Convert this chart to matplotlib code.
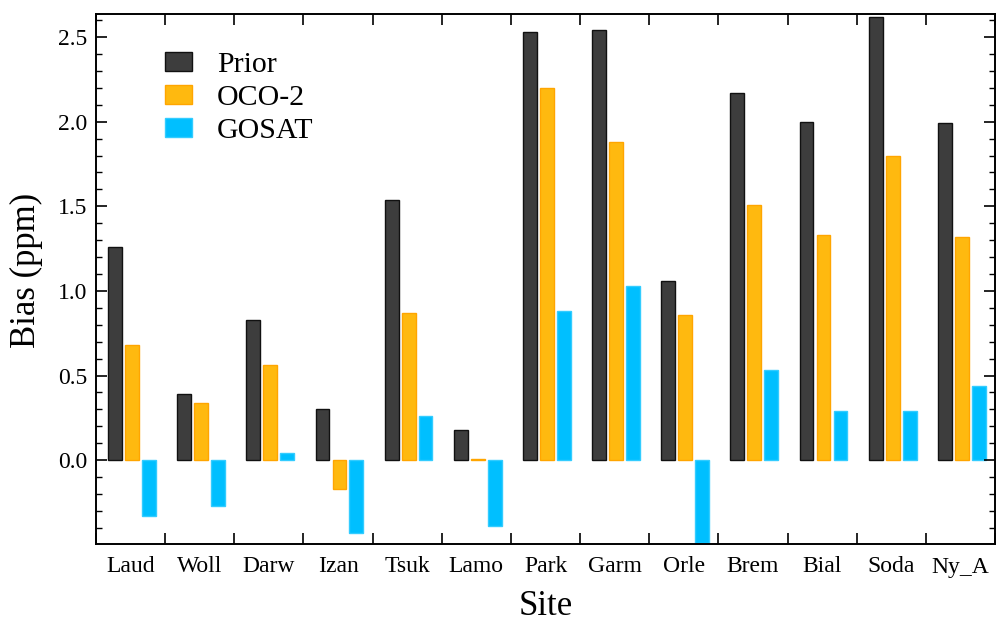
import numpy as np
import matplotlib
matplotlib.use("Agg")
import matplotlib.pyplot as plt
from matplotlib.ticker import MultipleLocator

sites = ["Laud", "Woll", "Darw", "Izan", "Tsuk", "Lamo", "Park", "Garm", "Orle",
         "Brem", "Bial", "Soda", "Ny_A"]
prior = [1.26, 0.39, 0.83, 0.30, 1.54, 0.18, 2.53, 2.54, 1.06, 2.17, 2.00, 2.62, 1.99]
oco2 = [0.68, 0.34, 0.56, -0.17, 0.87, 0.01, 2.20, 1.88, 0.86, 1.51, 1.33, 1.80, 1.32]
gosat = [-0.33, -0.27, 0.04, -0.43, 0.26, -0.39, 0.88, 1.03, -0.49, 0.53, 0.29, 0.29, 0.44]

plt.rcParams['font.family'] = ['Liberation Serif', 'DejaVu Serif']

fig = plt.figure(figsize=(9.96, 6.25), dpi=100)
ax = fig.add_axes([0.0964, 0.1296, 0.9026, 0.848])

x = np.arange(len(sites))
w = 0.2
ax.bar(x - 0.225, prior, w, color='#3d3d3d', edgecolor='#111111', linewidth=1.0, label='Prior')
ax.bar(x + 0.02, oco2, w, color='#ffb90f', edgecolor='#ffa500', linewidth=1.0, label='OCO-2')
ax.bar(x + 0.265, gosat, w, color='#00bfff', edgecolor='#33ccff', linewidth=1.0, label='GOSAT')

ax.set_xlim(-0.5, len(sites) - 0.5)
ax.set_ylim(-0.495, 2.636)

ax.set_xticks(np.arange(-0.5, len(sites), 1.0))
ax.set_xticklabels([])
ax.set_xticks(x, minor=True)
ax.set_xticklabels(sites, minor=True)
ax.tick_params(axis='x', which='major', direction='in', length=8, width=1.2, top=True, bottom=True)
ax.tick_params(axis='x', which='minor', length=0, pad=9, labelsize=17)

ax.yaxis.set_minor_locator(MultipleLocator(0.1))
ax.set_yticks([0.0, 0.5, 1.0, 1.5, 2.0, 2.5])
ax.set_yticklabels(["0.0", "0.5", "1.0", "1.5", "2.0", "2.5"])
ax.tick_params(axis='y', which='major', direction='in', length=8, width=1.2, left=True, right=True, labelsize=17, pad=6)
ax.tick_params(axis='y', which='minor', direction='in', length=4.5, width=1.0, left=True, right=True)

for s in ax.spines.values():
    s.set_linewidth(1.4)

ax.set_ylabel("Bias (ppm)", fontsize=25)
ax.yaxis.set_label_coords(-0.059, 0.516)
ax.set_xlabel("Site", fontsize=25, labelpad=9)

leg = ax.legend(loc='upper left', bbox_to_anchor=(0.0768, 0.9286), frameon=False, fontsize=21.5,
                borderpad=0, borderaxespad=0,
                handlelength=0.9, handleheight=0.6, labelspacing=0.23, handletextpad=0.84)

fig.savefig("out.png", dpi=100)
